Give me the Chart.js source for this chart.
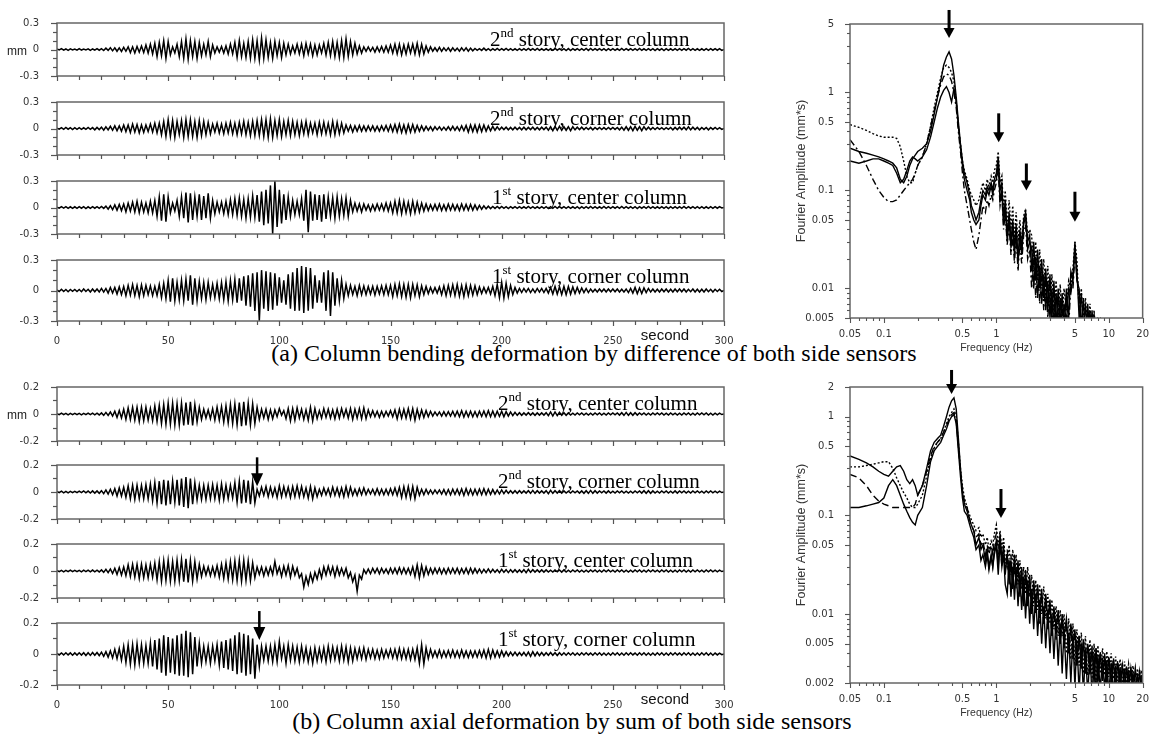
<!DOCTYPE html>
<html><head><meta charset="utf-8"><title>Column deformation records</title>
<script src="https://cdn.jsdelivr.net/npm/chart.js@4.4.1/dist/chart.umd.min.js"></script>
<style>
html,body{margin:0;padding:0;background:#fff;}
body{position:relative;width:1151px;height:734px;overflow:hidden;}
canvas{position:absolute;}
.cap{position:absolute;font-family:"Liberation Serif","Times New Roman",serif;font-size:24px;line-height:24px;color:#000;white-space:nowrap;transform:translateX(-50%);}
</style></head><body>
<div class="cap" style="left:594px;top:341px">(a) Column bending deformation by difference of both side sensors</div>
<div class="cap" style="left:572px;top:709px">(b) Column axial deformation by sum of both side sensors</div>
<script>
// ---------------- time axis (one reading per second, 0..300 s) ----------------
const TIME_SPAN = 300;
const TIME_TICKS = [0,10,20,30,40,50,60,70,80,90,100,110,120,130,140,150,160,170,180,190,200,210,220,230,240,250,260,270,280,290,300];
const TIME_LABELS = [0,50,100,150,200,250,300];
const BEND_Y_TICKS = [-0.3,-0.2,-0.1,0,0.1,0.2,0.3];
const AXIAL_Y_TICKS = [-0.2,-0.1,0,0.1,0.2];

// ---------------- (a) bending deformation, mm ----------------
const BEND_2F_CENTER = [
.005,-.005,.01,-.008,.006,-.01,.008,-.006,.006,-.008,
.01,-.006,.005,-.005,.008,-.01,.006,-.008,.01,-.008,
.01,-.012,.015,-.01,.02,-.015,.02,-.02,.018,-.022,
.025,-.02,.03,-.035,.03,-.04,.035,-.03,.04,-.035,
.05,-.04,.06,-.05,.07,-.08,.08,-.07,.1,-.1,
.09,-.06,.03,-.04,.06,-.08,.09,-.1,.12,-.11,
.1,-.08,.09,-.1,.08,-.07,.06,-.06,.09,-.08,
.05,-.04,.03,-.03,.035,-.04,.04,-.05,.06,-.05,
.08,-.09,.1,-.08,.07,-.09,.09,-.1,.11,-.1,
.1,-.12,.13,-.1,.11,-.09,.08,-.1,.09,-.07,
.08,-.09,.07,-.06,.06,-.05,.04,-.04,.06,-.05,
.06,-.07,.07,-.05,.06,-.07,.05,-.06,.05,-.04,
.07,-.06,.08,-.07,.09,-.08,.08,-.09,.1,-.09,
.12,-.08,.09,-.06,.07,-.05,.04,-.04,.03,-.02,
.03,-.02,.025,-.03,.03,-.025,.035,-.03,.04,-.03,
.05,-.04,.06,-.05,.06,-.06,.05,-.05,.06,-.04,
.06,-.05,.07,-.06,.06,-.05,.04,-.03,.03,-.02,
.02,-.02,.025,-.02,.02,-.015,.02,-.02,.02,-.015,
.015,-.02,.02,-.015,.02,-.02,.015,-.015,.012,-.01,
.01,-.01,.015,-.01,.01,-.012,.01,-.01,.012,-.01,
.01,-.008,.012,-.01,.01,-.01,.008,-.01,.01,-.01,
.01,-.01,.012,-.008,.01,-.01,.012,-.01,.008,-.01,
.008,-.01,.01,-.01,.012,-.008,.01,-.01,.01,-.012,
.01,-.012,.01,-.008,.01,-.01,.01,-.01,.012,-.01,
.012,-.01,.01,-.008,.01,-.01,.01,-.012,.01,-.01,
.01,-.01,.008,-.01,.012,-.01,.01,-.008,.01,-.01,
.01,-.01,.012,-.01,.008,-.01,.01,-.01,.01,-.012,
.01,-.008,.01,-.012,.01,-.01,.008,-.01,.01,-.01,
.01,-.01,.01,-.008,.012,-.01,.01,-.01,.008,-.01,
.008,-.01,.01,-.01,.01,-.008,.01,-.008,.01,-.01,
0];
const BEND_2F_CORNER = [
.005,-.008,.01,-.01,.012,-.008,.01,-.012,.01,-.01,
.01,-.01,.008,-.01,.012,-.01,.01,-.015,.012,-.012,
.015,-.02,.02,-.015,.025,-.02,.03,-.025,.03,-.03,
.04,-.035,.04,-.045,.05,-.04,.045,-.05,.04,-.045,
.04,-.035,.05,-.04,.06,-.05,.06,-.07,.08,-.09,
.1,-.09,.09,-.1,.08,-.07,.09,-.1,.1,-.09,
.1,-.09,.08,-.1,.09,-.08,.08,-.07,.07,-.06,
.05,-.04,.06,-.05,.05,-.06,.06,-.05,.07,-.06,
.06,-.07,.07,-.06,.08,-.07,.07,-.08,.08,-.08,
.09,-.08,.1,-.09,.1,-.1,.11,-.1,.09,-.08,
.1,-.09,.08,-.07,.09,-.08,.08,-.07,.07,-.08,
.07,-.06,.08,-.07,.06,-.05,.06,-.07,.07,-.06,
.07,-.06,.06,-.07,.08,-.07,.07,-.06,.06,-.05,
.04,-.03,.035,-.04,.03,-.03,.035,-.03,.03,-.03,
.03,-.025,.03,-.03,.025,-.03,.03,-.025,.035,-.03,
.04,-.035,.045,-.04,.05,-.045,.04,-.05,.045,-.04,
.045,-.04,.035,-.03,.03,-.025,.025,-.02,.02,-.025,
.02,-.015,.02,-.02,.015,-.02,.02,-.02,.025,-.02,
.02,-.025,.03,-.025,.035,-.04,.04,-.035,.04,-.04,
.04,-.035,.04,-.03,.03,-.025,.025,-.02,.02,-.015,
.015,-.012,.015,-.015,.012,-.015,.015,-.012,.012,-.015,
.015,-.015,.012,-.012,.015,-.015,.012,-.015,.015,-.012,
.015,-.02,.02,-.025,.025,-.02,.025,-.02,.02,-.02,
.02,-.025,.02,-.015,.015,-.012,.015,-.012,.012,-.012,
.012,-.015,.012,-.01,.012,-.012,.01,-.012,.012,-.01,
.012,-.01,.012,-.015,.015,-.02,.02,-.02,.02,-.025,
.025,-.02,.02,-.025,.02,-.015,.015,-.012,.012,-.012,
.012,-.01,.01,-.012,.01,-.01,.012,-.015,.012,-.012,
.015,-.012,.015,-.015,.02,-.015,.015,-.012,.012,-.015,
.012,-.01,.012,-.015,.012,-.01,.012,-.01,.01,-.01,
0];
const BEND_1F_CENTER = [
.005,-.008,.01,-.006,.01,-.01,.008,-.01,.008,-.01,
.01,-.008,.01,-.012,.008,-.01,.01,-.008,.01,-.01,
.012,-.01,.015,-.02,.02,-.025,.03,-.03,.035,-.035,
.04,-.05,.05,-.04,.06,-.05,.07,-.06,.06,-.05,
.05,-.06,.07,-.06,.08,-.1,.12,-.15,.15,-.16,
.12,-.06,.05,-.04,.08,-.1,.12,-.12,.17,-.17,
.16,-.14,.12,-.1,.15,-.14,.13,-.12,.16,-.12,
.08,-.07,.06,-.05,.06,-.07,.07,-.08,.09,-.08,
.1,-.09,.11,-.1,.09,-.12,.1,-.11,.13,-.11,
.14,-.16,.18,-.2,.2,-.18,.25,-.3,.3,-.22,
.2,-.18,.15,-.14,.12,-.1,.08,-.08,.07,-.08,
.1,-.15,.2,-.28,.18,-.15,.15,-.14,.14,-.16,
.15,-.13,.12,-.1,.11,-.12,.12,-.1,.1,-.09,
.11,-.1,.08,-.05,.05,-.04,.04,-.05,.04,-.03,
.03,-.04,.03,-.035,.04,-.03,.04,-.035,.05,-.04,
.05,-.06,.07,-.06,.08,-.07,.07,-.06,.06,-.07,
.07,-.06,.06,-.05,.05,-.04,.04,-.035,.03,-.03,
.035,-.03,.04,-.035,.03,-.035,.04,-.03,.035,-.03,
.03,-.035,.04,-.03,.035,-.03,.035,-.03,.03,-.025,
.025,-.02,.02,-.015,.015,-.012,.012,-.01,.012,-.01,
.012,-.01,.01,-.012,.01,-.008,.01,-.01,.01,-.01,
.008,-.01,.012,-.01,.01,-.01,.008,-.01,.01,-.01,
.01,-.012,.01,-.01,.012,-.01,.01,-.008,.01,-.01,
.01,-.01,.008,-.01,.01,-.012,.01,-.01,.01,-.01,
.012,-.01,.01,-.01,.008,-.01,.012,-.01,.01,-.01,
.01,-.008,.01,-.01,.012,-.01,.01,-.01,.01,-.01,
.01,-.012,.01,-.008,.01,-.01,.012,-.01,.01,-.01,
.008,-.01,.01,-.01,.01,-.012,.01,-.01,.01,-.01,
.01,-.01,.012,-.01,.01,-.008,.01,-.01,.01,-.01,
.01,-.01,.008,-.01,.01,-.01,.01,-.008,.01,-.005,
0];
const BEND_1F_CORNER = [
.005,-.01,.012,-.01,.01,-.012,.01,-.008,.01,-.01,
.01,-.012,.015,-.01,.012,-.015,.015,-.012,.015,-.015,
.02,-.015,.02,-.025,.03,-.025,.03,-.035,.035,-.04,
.04,-.05,.05,-.045,.06,-.05,.05,-.06,.055,-.05,
.05,-.04,.045,-.05,.04,-.05,.06,-.07,.07,-.08,
.1,-.11,.12,-.1,.08,-.09,.1,-.1,.11,-.1,
.15,-.14,.12,-.1,.09,-.08,.08,-.09,.08,-.07,
.06,-.07,.07,-.08,.08,-.09,.09,-.1,.1,-.09,
.11,-.12,.12,-.1,.14,-.15,.15,-.16,.17,-.2,
.18,-.3,.2,-.18,.19,-.2,.18,-.19,.17,-.15,
.13,-.12,.1,-.14,.16,-.18,.18,-.2,.22,-.2,
.24,-.22,.23,-.2,.22,-.18,.15,-.12,.1,-.12,
.18,-.2,.2,-.25,.18,-.15,.12,-.1,.1,-.08,
.06,-.05,.05,-.04,.04,-.05,.05,-.04,.045,-.04,
.04,-.035,.04,-.045,.04,-.035,.045,-.04,.05,-.04,
.05,-.06,.06,-.05,.065,-.06,.06,-.065,.06,-.07,
.06,-.05,.055,-.06,.045,-.04,.04,-.03,.03,-.025,
.03,-.025,.035,-.04,.045,-.05,.05,-.045,.055,-.05,
.06,-.055,.05,-.06,.055,-.05,.05,-.045,.045,-.04,
.035,-.03,.03,-.025,.03,-.035,.04,-.05,.06,-.07,
.08,-.075,.07,-.06,.05,-.04,.03,-.025,.02,-.02,
.02,-.015,.02,-.02,.015,-.02,.02,-.015,.02,-.02,
.02,-.025,.03,-.035,.04,-.035,.035,-.04,.04,-.04,
.04,-.035,.035,-.03,.03,-.025,.025,-.02,.02,-.02,
.015,-.015,.012,-.015,.015,-.012,.015,-.015,.015,-.012,
.015,-.012,.015,-.015,.012,-.015,.015,-.02,.02,-.025,
.03,-.03,.025,-.03,.025,-.02,.02,-.015,.015,-.015,
.012,-.015,.015,-.012,.015,-.015,.012,-.015,.015,-.012,
.015,-.012,.015,-.015,.012,-.012,.015,-.015,.012,-.015,
.012,-.015,.015,-.012,.012,-.015,.012,-.01,.012,-.01,
0];

// ---------------- (b) axial deformation, mm ----------------
const AXIAL_2F_CENTER = [
.003,-.005,.006,-.005,.005,-.006,.005,-.004,.005,-.005,
.005,-.006,.005,-.005,.006,-.005,.006,-.006,.006,-.007,
.008,-.01,.012,-.01,.015,-.015,.02,-.025,.025,-.03,
.035,-.04,.045,-.04,.05,-.045,.05,-.055,.05,-.05,
.05,-.045,.04,-.05,.06,-.055,.065,-.07,.07,-.075,
.08,-.075,.08,-.08,.075,-.08,.08,-.085,.085,-.08,
.09,-.085,.07,-.06,.05,-.04,.035,-.03,.03,-.035,
.04,-.045,.05,-.045,.055,-.06,.06,-.065,.07,-.07,
.075,-.08,.085,-.09,.09,-.085,.08,-.08,.075,-.07,
.05,-.04,.035,-.03,.035,-.04,.03,-.035,.03,-.02,
.04,-.01,.025,-.035,.04,-.05,.04,-.045,.045,-.03,
.035,-.04,.03,-.045,.05,-.05,.04,-.035,.025,-.03,
.04,-.025,.035,-.03,.03,-.035,.035,-.03,.04,-.02,
.035,-.03,.04,-.04,.035,-.03,.04,-.035,.045,-.035,
.03,-.02,.025,-.02,.02,-.025,.02,-.02,.02,-.015,
.025,-.02,.03,-.035,.035,-.03,.035,-.03,.04,-.035,
.04,-.045,.035,-.03,.03,-.025,.025,-.02,.02,-.015,
.015,-.012,.015,-.015,.018,-.015,.018,-.015,.02,-.018,
.02,-.02,.025,-.022,.02,-.02,.02,-.02,.018,-.02,
.02,-.018,.022,-.02,.025,-.02,.022,-.02,.02,-.018,
.02,-.02,.018,-.015,.015,-.012,.012,-.01,.01,-.01,
.008,-.008,.01,-.008,.008,-.01,.008,-.008,.008,-.008,
.01,-.012,.015,-.015,.015,-.012,.012,-.01,.01,-.01,
.008,-.008,.006,-.008,.008,-.006,.008,-.008,.006,-.008,
.006,-.008,.008,-.006,.008,-.008,.006,-.008,.008,-.006,
.008,-.006,.008,-.008,.01,-.01,.012,-.01,.01,-.01,
.01,-.008,.008,-.006,.008,-.008,.006,-.008,.008,-.006,
.008,-.006,.008,-.008,.006,-.008,.008,-.006,.006,-.008,
.006,-.008,.008,-.006,.008,-.008,.006,-.008,.008,-.006,
.008,-.006,.008,-.008,.006,-.008,.006,-.006,.006,-.004,
0];
const AXIAL_2F_CORNER = [
.004,-.005,.006,-.006,.005,-.006,.005,-.005,.005,-.005,
.006,-.005,.008,-.006,.007,-.008,.008,-.008,.008,-.01,
.01,-.012,.015,-.015,.02,-.02,.025,-.03,.03,-.03,
.035,-.04,.045,-.05,.05,-.055,.05,-.05,.05,-.05,
.055,-.05,.06,-.065,.07,-.08,.08,-.09,.09,-.1,
.085,-.09,.08,-.075,.09,-.1,.1,-.11,.11,-.12,
.1,-.09,.07,-.06,.05,-.055,.05,-.055,.05,-.05,
.055,-.05,.05,-.06,.06,-.055,.05,-.05,.05,-.045,
.07,-.075,.08,-.085,.09,-.08,.085,-.09,.075,-.08,
.02,-.03,.035,-.025,.04,-.035,.035,-.03,.03,-.04,
.045,-.035,.04,-.03,.035,-.04,.04,-.035,.045,-.035,
.04,-.035,.03,-.045,.04,-.05,.03,-.035,.02,-.025,
.03,-.02,.025,-.03,.035,-.025,.03,-.03,.03,-.035,
.04,-.03,.035,-.025,.02,-.025,.025,-.02,.03,-.02,
.02,-.015,.02,-.02,.025,-.02,.02,-.02,.02,-.02,
.025,-.02,.03,-.025,.035,-.04,.04,-.04,.04,-.045,
.04,-.05,.035,-.025,.02,-.02,.02,-.015,.015,-.015,
.015,-.012,.015,-.015,.018,-.02,.018,-.02,.02,-.018,
.02,-.02,.022,-.025,.025,-.02,.02,-.022,.02,-.02,
.022,-.02,.025,-.02,.02,-.018,.018,-.015,.015,-.015,
.015,-.012,.012,-.01,.01,-.01,.01,-.01,.01,-.008,
.008,-.008,.01,-.01,.012,-.01,.01,-.008,.008,-.008,
.01,-.012,.012,-.01,.01,-.008,.01,-.008,.008,-.008,
.006,-.008,.008,-.006,.008,-.008,.008,-.01,.01,-.01,
.012,-.01,.01,-.008,.008,-.006,.008,-.008,.008,-.008,
.006,-.008,.008,-.006,.008,-.008,.006,-.008,.006,-.008,
.008,-.006,.008,-.008,.01,-.01,.01,-.01,.008,-.008,
.006,-.008,.008,-.006,.008,-.008,.006,-.008,.008,-.008,
.008,-.006,.008,-.008,.006,-.008,.008,-.006,.008,-.006,
.006,-.008,.008,-.006,.008,-.006,.006,-.006,.006,-.004,
0];
const AXIAL_1F_CENTER = [
.004,-.005,.005,-.006,.005,-.005,.006,-.005,.005,-.005,
.005,-.006,.006,-.005,.006,-.006,.007,-.006,.006,-.007,
.008,-.01,.012,-.012,.015,-.018,.02,-.025,.025,-.03,
.03,-.035,.045,-.04,.05,-.045,.05,-.055,.05,-.05,
.045,-.05,.05,-.045,.06,-.065,.07,-.075,.075,-.07,
.08,-.075,.07,-.075,.08,-.07,.085,-.08,.09,-.085,
.08,-.075,.07,-.06,.05,-.04,.035,-.03,.03,-.035,
.03,-.035,.04,-.045,.05,-.055,.06,-.06,.07,-.065,
.075,-.07,.08,-.075,.08,-.07,.075,-.07,.06,-.05,
.03,-.025,.03,-.035,.025,-.03,.03,-.025,.07,-.02,
.03,-.04,.035,-.03,.04,-.045,.035,-.03,.02,-.05,
-.02,-.12,-.04,-.1,-.02,-.08,-.01,-.06,.01,-.05,
.03,-.03,.035,-.025,.03,-.04,.03,-.03,.02,-.03,
.02,-.05,-.01,-.08,-.03,-.15,-.03,-.06,.01,-.02,
.015,-.02,.02,-.015,.02,-.02,.02,-.015,.015,-.02,
.02,-.018,.02,-.02,.025,-.02,.022,-.02,.02,-.025,
.03,-.04,.045,-.05,.04,-.035,.03,-.025,.02,-.02,
.02,-.018,.02,-.02,.018,-.02,.02,-.018,.02,-.018,
.02,-.02,.018,-.018,.02,-.02,.02,-.018,.018,-.015,
.015,-.015,.012,-.012,.015,-.012,.012,-.01,.01,-.012,
.012,-.01,.01,-.012,.01,-.01,.01,-.01,.008,-.01,
.01,-.012,.012,-.01,.01,-.008,.008,-.008,.008,-.008,
.008,-.008,.006,-.008,.008,-.006,.008,-.008,.008,-.008,
.006,-.008,.008,-.006,.008,-.008,.006,-.008,.006,-.008,
.008,-.006,.008,-.008,.006,-.008,.008,-.006,.008,-.006,
.006,-.008,.008,-.006,.008,-.008,.006,-.008,.006,-.008,
.008,-.006,.008,-.008,.006,-.008,.008,-.006,.008,-.006,
.006,-.008,.008,-.006,.008,-.008,.006,-.008,.006,-.008,
.008,-.006,.008,-.008,.006,-.008,.008,-.006,.008,-.006,
.006,-.008,.008,-.006,.008,-.006,.006,-.006,.006,-.004,
0];
const AXIAL_1F_CORNER = [
.004,-.006,.007,-.006,.008,-.006,.007,-.008,.007,-.007,
.008,-.007,.008,-.01,.008,-.009,.01,-.008,.01,-.01,
.012,-.015,.015,-.02,.02,-.025,.03,-.03,.035,-.04,
.05,-.055,.06,-.065,.06,-.07,.065,-.06,.06,-.06,
.055,-.06,.07,-.08,.09,-.1,.1,-.12,.12,-.14,
.11,-.12,.1,-.13,.12,-.14,.13,-.14,.15,-.15,
.14,-.13,.11,-.08,.07,-.06,.05,-.05,.05,-.06,
.05,-.045,.06,-.07,.08,-.09,.09,-.1,.1,-.11,
.12,-.13,.14,-.12,.13,-.14,.12,-.13,.1,-.16,
.06,-.08,.05,-.04,.05,-.045,.05,-.05,.06,-.05,
.08,-.03,.05,-.06,.06,-.04,.05,-.045,.045,-.05,
.05,-.04,.04,-.05,.03,-.06,.04,-.045,.035,-.04,
.04,-.05,.05,-.04,.045,-.035,.04,-.045,.05,-.04,
.045,-.05,.04,-.045,.035,-.03,.035,-.03,.04,-.035,
.03,-.025,.03,-.03,.025,-.03,.03,-.025,.025,-.02,
.03,-.025,.03,-.03,.035,-.03,.03,-.03,.03,-.035,
.03,-.035,.04,-.06,.06,-.065,.04,-.03,.03,-.02,
.02,-.02,.025,-.022,.02,-.02,.022,-.02,.025,-.02,
.02,-.022,.025,-.02,.02,-.022,.02,-.02,.02,-.02,
.022,-.02,.025,-.025,.03,-.025,.025,-.02,.02,-.02,
.02,-.015,.015,-.012,.012,-.01,.012,-.01,.01,-.01,
.01,-.012,.012,-.015,.015,-.012,.012,-.01,.01,-.01,
.008,-.008,.01,-.008,.008,-.01,.008,-.008,.008,-.008,
.008,-.006,.008,-.008,.006,-.008,.008,-.006,.008,-.006,
.006,-.008,.008,-.006,.008,-.008,.006,-.008,.006,-.008,
.008,-.006,.008,-.008,.006,-.008,.008,-.006,.008,-.006,
.006,-.008,.008,-.006,.008,-.008,.006,-.008,.006,-.008,
.008,-.006,.008,-.008,.006,-.008,.008,-.006,.008,-.006,
.006,-.008,.008,-.006,.008,-.008,.006,-.008,.006,-.008,
.008,-.006,.008,-.008,.006,-.008,.006,-.006,.006,-.004,
0];

// ---------------- Fourier spectra ----------------
const FREQ_LOW = [0.05,0.06,0.07,0.08,0.09,0.1,0.11,0.12,0.13,0.14,0.15,0.16,0.17,0.18,0.19,0.2,
 0.22,0.24,0.26,0.28,0.3,0.32,0.34,0.36,0.38,0.4,0.42,0.44,0.46,0.48,0.5,
 0.52,0.55,0.58,0.6,0.63,0.66,0.7,0.73,0.76,0.8,0.83,0.86,0.9,0.93,0.96];
const FREQ_HIGH = [1.0,1.04,1.08,1.12,1.16,1.2,1.25,1.3,1.35,1.4,1.45,1.5,
 1.56,1.62,1.68,1.75,1.82,1.9,1.98,
 2.06,2.15,2.24,2.33,2.43,2.53,2.64,2.75,2.87,3.0,
 3.12,3.25,3.4,3.55,3.7,3.85,4.0,
 4.2,4.4,4.6,4.8,5.0,
 5.2,5.45,5.7,5.95,6.2,6.5,6.8,7.1,7.4,7.7,8.0,
 8.4,8.8,9.2,9.6,10,
 10.5,11,11.5,12,12.6,13.2,13.8,14.4,15,
 15.7,16.4,17.2,18,18.8,19.6,20];

// (a) bending spectra (mm*s)
const SPEC_A_SOLID1 = [.27,.25,.24,.23,.22,.21,.2,.19,.17,.13,.12,.14,.18,.21,.23,.25,
 .27,.3,.4,.6,.9,1.3,1.9,2.3,2.6,2.2,1.5,.9,.5,.3,.2,
 .15,.12,.09,.07,.06,.05,.06,.08,.1,.09,.11,.1,.12,.1,.13,
 .15,.22,.1,.12,.05,.08,.035,.06,.03,.05,.025,.045,
 .02,.04,.025,.05,.06,.03,.035,
 .015,.03,.012,.025,.01,.02,.008,.016,.006,.014,
 .005,.012,.004,.01,.004,.009,.004,
 .01,.005,.015,.012,.03,
 .012,.01,.004,.008,.003,.007,.003,.006,.003,.005,.003,
 .004,.003,.0035,.003,.003];
const SPEC_A_DOTTED = [.47,.44,.41,.38,.36,.35,.35,.35,.34,.28,.2,.14,.12,.12,.15,.18,
 .22,.3,.45,.7,1.0,1.4,1.8,1.9,1.8,1.6,1.3,.8,.45,.3,.2,
 .16,.13,.1,.09,.08,.07,.08,.1,.12,.1,.13,.11,.14,.12,.16,
 .18,.25,.12,.14,.06,.1,.045,.08,.04,.07,.03,.06,
 .03,.05,.03,.055,.065,.035,.04,
 .035,.015,.03,.012,.025,.01,.02,.008,.017,.006,
 .014,.005,.012,.005,.011,.0045,.01,
 .006,.012,.01,.016,.03,
 .02,.006,.01,.004,.008,.0035,.007,.003,.006,.003,.005,
 .005,.0035,.004,.003,.0035];
const SPEC_A_DASHDOT = [.33,.25,.18,.13,.1,.085,.077,.077,.08,.09,.1,.11,.12,.13,.15,.18,
 .22,.3,.45,.65,.9,1.2,1.45,1.55,1.5,1.3,1.0,.7,.4,.25,.15,
 .1,.07,.05,.04,.03,.025,.035,.05,.07,.06,.08,.07,.09,.08,.1,
 .12,.16,.07,.09,.04,.06,.028,.045,.022,.035,.018,.035,
 .015,.03,.018,.035,.045,.02,.025,
 .01,.022,.008,.018,.007,.015,.006,.012,.005,.011,
 .004,.009,.0035,.008,.0035,.007,.003,
 .008,.004,.011,.01,.022,
 .014,.008,.0035,.0065,.003,.0055,.0025,.005,.0025,.004,.0025,
 .0035,.0025,.003,.0025,.0025];
const SPEC_A_SOLID2 = [.2,.19,.2,.21,.21,.2,.19,.18,.15,.12,.13,.16,.2,.22,.21,.2,
 .22,.26,.35,.5,.7,.9,1.05,1.15,1.0,.8,1.1,.8,.45,.28,.18,
 .13,.1,.08,.06,.05,.045,.05,.07,.09,.08,.1,.09,.11,.09,.12,
 .13,.19,.08,.1,.045,.07,.03,.05,.026,.045,.022,.04,
 .018,.035,.022,.045,.055,.025,.03,
 .026,.01,.021,.008,.017,.007,.014,.006,.012,.005,
 .01,.004,.009,.004,.008,.0035,.007,
 .0045,.01,.009,.013,.026,
 .016,.005,.009,.0035,.007,.003,.006,.003,.0055,.003,.0045,
 .0038,.0028,.0032,.0028,.0028];

// (b) axial spectra (mm*s)
const SPEC_B_SOLID1 = [.4,.37,.34,.31,.28,.26,.25,.28,.31,.32,.28,.23,.21,.23,.2,.16,
 .2,.3,.45,.55,.6,.65,.8,1.0,1.25,1.45,1.55,1.2,.6,.3,.17,
 .13,.11,.09,.08,.07,.05,.06,.045,.05,.035,.045,.03,.04,.03,.045,
 .055,.03,.065,.035,.05,.025,.04,.02,.035,.018,.04,.02,
 .035,.015,.03,.012,.028,.014,.025,
 .01,.022,.012,.02,.009,.018,.008,.016,.009,.014,
 .006,.012,.007,.011,.005,.01,.006,
 .009,.004,.008,.005,.007,
 .003,.006,.003,.0055,.0025,.005,.0025,.0045,.002,.0045,.002,
 .004,.0022,.0038,.0019,.0036,
 .002,.0034,.0018,.0032,.0019,.003,.0017,.0029,.0018,
 .0028,.0017,.0027,.0016,.0026,.0017,.0024];
const SPEC_B_DOTTED = [.31,.31,.32,.33,.34,.35,.35,.3,.24,.2,.17,.15,.13,.12,.12,.13,
 .16,.25,.38,.48,.55,.6,.7,.85,1.0,1.1,1.2,1.0,.55,.3,.2,
 .15,.12,.1,.09,.08,.07,.075,.06,.065,.05,.06,.045,.055,.05,.065,
 .08,.05,.07,.045,.06,.035,.03,.05,.025,.045,.025,.04,
 .02,.035,.018,.03,.016,.03,.015,
 .025,.012,.022,.011,.02,.01,.019,.009,.016,.008,
 .014,.007,.012,.006,.011,.006,.01,
 .004,.009,.0035,.008,.003,
 .007,.003,.0065,.0025,.006,.0024,.0055,.0022,.005,.002,.0048,
 .0025,.0045,.0024,.0042,.0023,
 .004,.0022,.0037,.0021,.0035,.002,.0033,.002,.0031,
 .0019,.003,.0019,.0028,.0018,.0027,.0018];
const SPEC_B_DASHED = [.26,.24,.2,.16,.14,.13,.125,.12,.12,.12,.12,.12,.12,.12,.13,.16,
 .2,.28,.4,.5,.55,.6,.7,.8,.95,1.05,1.1,.9,.5,.28,.18,
 .14,.12,.09,.08,.07,.06,.065,.05,.055,.04,.05,.04,.05,.04,.055,
 .065,.04,.06,.03,.045,.028,.045,.025,.04,.02,.035,.018,
 .03,.016,.028,.015,.025,.012,.022,
 .011,.02,.01,.018,.008,.016,.008,.014,.007,.012,
 .006,.011,.0055,.01,.005,.009,.0045,
 .008,.004,.007,.0035,.0065,
 .003,.006,.0028,.0055,.0025,.005,.0024,.0048,.0022,.0045,.0021,
 .0042,.002,.004,.002,.0038,
 .0019,.0036,.0019,.0034,.0018,.0032,.0018,.003,.0017,
 .0029,.0017,.0028,.0016,.0027,.0016,.0026];
const SPEC_B_SOLID2 = [.12,.12,.125,.13,.135,.15,.2,.23,.2,.16,.13,.11,.095,.085,.08,.1,
 .12,.2,.35,.45,.5,.55,.65,.75,.9,1.0,1.05,.85,.45,.25,.15,
 .11,.1,.08,.07,.06,.045,.05,.035,.04,.03,.04,.028,.038,.03,.04,
 .05,.025,.055,.03,.04,.02,.016,.035,.015,.03,.014,.03,
 .012,.026,.011,.024,.009,.022,.008,
 .018,.007,.016,.006,.014,.005,.012,.0045,.011,.004,
 .01,.0035,.009,.003,.008,.0025,.007,
 .0022,.0065,.002,.006,.0018,
 .0055,.0016,.005,.0015,.0045,.0015,.0042,.0014,.004,.0014,.0038,
 .0017,.0036,.0017,.0034,.0016,
 .0032,.0016,.003,.0016,.0029,.0015,.0028,.0015,.0027,
 .0015,.0026,.0015,.0025,.0015,.0024,.0015];

const SPEC_X_TICKS = [0.05,0.06,0.07,0.08,0.09,0.1,0.2,0.3,0.4,0.5,0.6,0.7,0.8,0.9,1,2,3,4,5,6,7,8,9,10,20];
const SPEC_X_LABELS = [0.05,0.1,0.5,1,5,10,20];
const SPEC_A_Y_TICKS = [0.005,0.006,0.007,0.008,0.009,0.01,0.02,0.03,0.04,0.05,0.06,0.07,0.08,0.09,0.1,0.2,0.3,0.4,0.5,0.6,0.7,0.8,0.9,1,2,3,4,5];
const SPEC_A_Y_LABELS = [0.005,0.01,0.05,0.1,0.5,1,5];
const SPEC_B_Y_TICKS = [0.002,0.003,0.004,0.005,0.006,0.007,0.008,0.009,0.01,0.02,0.03,0.04,0.05,0.06,0.07,0.08,0.09,0.1,0.2,0.3,0.4,0.5,0.6,0.7,0.8,0.9,1,2];
const SPEC_B_Y_LABELS = [0.002,0.005,0.01,0.05,0.1,0.5,1,2];

// ---------------- layout ----------------
const PANELS = [
 {data:BEND_2F_CENTER, top:19, h:65, lim:0.3, yt:BEND_Y_TICKS, num:'2', sup:'nd', rest:' story, center column', tx:490, mm:true},
 {data:BEND_2F_CORNER, top:98, h:65, lim:0.3, yt:BEND_Y_TICKS, num:'2', sup:'nd', rest:' story, corner column', tx:490},
 {data:BEND_1F_CENTER, top:177, h:65, lim:0.3, yt:BEND_Y_TICKS, num:'1', sup:'st', rest:' story, center column', tx:492},
 {data:BEND_1F_CORNER, top:256, h:65, lim:0.3, yt:BEND_Y_TICKS, num:'1', sup:'st', rest:' story, corner column', tx:492, xlabels:true},
 {data:AXIAL_2F_CENTER, top:383, h:66, lim:0.2, yt:AXIAL_Y_TICKS, num:'2', sup:'nd', rest:' story, center column', tx:498, mm:true},
 {data:AXIAL_2F_CORNER, top:461, h:66, lim:0.2, yt:AXIAL_Y_TICKS, num:'2', sup:'nd', rest:' story, corner column', tx:498, arrow:{t:90, v:0.042, len:29}},
 {data:AXIAL_1F_CENTER, top:540, h:66, lim:0.2, yt:AXIAL_Y_TICKS, num:'1', sup:'st', rest:' story, center column', tx:498},
 {data:AXIAL_1F_CORNER, top:619, h:66, lim:0.2, yt:AXIAL_Y_TICKS, num:'1', sup:'st', rest:' story, corner column', tx:498, xlabels:true, arrow:{t:91, v:0.09, len:29}}
];

const TICK_FONT = {family:'"DejaVu Sans", sans-serif', size:10};

function mkCanvas(left, top, w, h){
  const c = document.createElement('canvas');
  c.width = w; c.height = h;
  c.style.left = left+'px'; c.style.top = top+'px';
  c.style.width = w+'px'; c.style.height = h+'px';
  document.body.appendChild(c);
  return c;
}
function drawArrow(ctx, x, yTip, len, shaftW, headW, headH){
  ctx.fillStyle = '#000';
  ctx.fillRect(x - shaftW/2, yTip - len, shaftW, len - headH + 1);
  ctx.beginPath();
  ctx.moveTo(x - headW/2, yTip - headH);
  ctx.lineTo(x + headW/2, yTip - headH);
  ctx.lineTo(x, yTip);
  ctx.closePath();
  ctx.fill();
}

const PAD_T = 12;
PANELS.forEach(p => {
  const xh = p.xlabels ? 30 : 8;
  const c = mkCanvas(0, p.top - PAD_T, 760, PAD_T + p.h + xh);
  const n = p.data.length;
  const pts = p.data.map((v, i) => ({x: i * TIME_SPAN / (n - 1), y: v}));
  const decor = {
    id: 'tsDecor',
    afterDraw(chart){
      const {ctx, chartArea:a, scales:{x, y}} = chart;
      ctx.save();
      ctx.strokeStyle = '#666'; ctx.lineWidth = 1.5;
      ctx.strokeRect(a.left, a.top, a.right - a.left, a.bottom - a.top);
      ctx.strokeStyle = '#555'; ctx.lineWidth = 1.2;
      p.yt.forEach(v => {
        const py = Math.round(y.getPixelForValue(v)) + 0.5;
        const L = (v === 0 || Math.abs(v) === p.lim) ? 6 : 4;
        ctx.beginPath(); ctx.moveTo(a.left - L, py); ctx.lineTo(a.left, py); ctx.stroke();
      });
      TIME_TICKS.forEach(t => {
        const px = Math.round(x.getPixelForValue(t)) + 0.5;
        const L = t % 50 === 0 ? 5 : 4;
        ctx.beginPath(); ctx.moveTo(px, a.bottom); ctx.lineTo(px, a.bottom + L); ctx.stroke();
      });
      ctx.fillStyle = '#000'; ctx.textAlign = 'left'; ctx.textBaseline = 'alphabetic';
      let tx = p.tx; const ty = a.top + 23;
      ctx.font = '21px "Liberation Serif"'; ctx.fillText(p.num, tx, ty); tx += ctx.measureText(p.num).width;
      ctx.font = '13px "Liberation Serif"'; ctx.fillText(p.sup, tx, ty - 9); tx += ctx.measureText(p.sup).width;
      ctx.font = '21px "Liberation Serif"'; ctx.fillText(p.rest, tx, ty);
      if (p.mm){
        ctx.font = '12px "Liberation Sans"'; ctx.fillStyle = '#222';
        ctx.fillText('mm', 7, y.getPixelForValue(0) + 5);
      }
      if (p.xlabels){
        ctx.font = '15px "Liberation Sans"'; ctx.textAlign = 'center'; ctx.fillStyle = '#111';
        ctx.fillText('second', 665, a.bottom + 19);
      }
      if (p.arrow){
        drawArrow(ctx, x.getPixelForValue(p.arrow.t), y.getPixelForValue(p.arrow.v), p.arrow.len, 2.5, 12, 13);
      }
      ctx.restore();
    }
  };
  new Chart(c, {
    type: 'line',
    data: {datasets: [{data: pts, borderColor: '#000', borderWidth: 1.5, pointRadius: 0, tension: 0, fill: false}]},
    options: {
      responsive: false, animation: false, events: [], parsing: false, normalized: true, devicePixelRatio: 1,
      layout: {padding: {top: PAD_T, right: 36, left: 0, bottom: 0}},
      plugins: {legend: {display: false}, tooltip: {enabled: false}},
      scales: {
        x: {type: 'linear', min: 0, max: TIME_SPAN, grid: {display: false}, border: {display: false},
            ticks: {display: !!p.xlabels, autoSkip: false, maxRotation: 0, padding: 6, font: TICK_FONT, color: '#333', callback: v => String(v)},
            afterBuildTicks: s => { s.ticks = TIME_LABELS.map(v => ({value: v})); },
            afterFit: s => { s.height = xh; }},
        y: {type: 'linear', min: -p.lim, max: p.lim, grid: {display: false}, border: {display: false},
            ticks: {padding: 10, font: TICK_FONT, color: '#333', callback: v => String(v)},
            afterBuildTicks: s => { s.ticks = [-p.lim, 0, p.lim].map(v => ({value: v})); },
            afterFit: s => { s.width = 57; }}
      }
    },
    plugins: [decor]
  });
});

// ---------------- spectra ----------------
const SPECTRA = [
 {left:760, top:0, w:391, h:360, padTop:24, xh:42, ymin:0.005, ymax:5, yt:SPEC_A_Y_TICKS, yl:SPEC_A_Y_LABELS,
  freq: FREQ_LOW.concat(FREQ_HIGH),
  lines:[{v:SPEC_A_SOLID1, dash:[]},{v:SPEC_A_DOTTED, dash:[2,2]},{v:SPEC_A_DASHDOT, dash:[7,3,2,3]},{v:SPEC_A_SOLID2, dash:[]}],
  arrows:[{f:0.38, v:3.6, len:28},{f:1.05, v:0.31, len:29},{f:1.85, v:0.1, len:27},{f:5, v:0.048, len:30}]},
 {left:760, top:366, w:391, h:368, padTop:21, xh:51, ymin:0.002, ymax:2, yt:SPEC_B_Y_TICKS, yl:SPEC_B_Y_LABELS,
  freq: FREQ_LOW.concat(FREQ_HIGH),
  lines:[{v:SPEC_B_SOLID1, dash:[]},{v:SPEC_B_DOTTED, dash:[2,2]},{v:SPEC_B_DASHED, dash:[7,4]},{v:SPEC_B_SOLID2, dash:[]}],
  arrows:[{f:0.4, v:1.7, len:24},{f:1.1, v:0.094, len:29}]}
];

SPECTRA.forEach(s => {
  const c = mkCanvas(s.left, s.top, s.w, s.h);
  const datasets = s.lines.map(l => ({
    data: l.v.map((v, i) => ({x: s.freq[i], y: v})).filter(pt => pt.x !== undefined),
    borderColor: '#000', borderWidth: 1.4, borderDash: l.dash, pointRadius: 0, tension: 0, fill: false
  }));
  const decor = {
    id: 'specDecor',
    afterDraw(chart){
      const {ctx, chartArea:a, scales:{x, y}} = chart;
      ctx.save();
      ctx.strokeStyle = '#666'; ctx.lineWidth = 1.5;
      ctx.strokeRect(a.left, a.top, a.right - a.left, a.bottom - a.top);
      ctx.strokeStyle = '#555'; ctx.lineWidth = 1.1;
      s.yt.forEach(v => {
        const py = Math.round(y.getPixelForValue(v)) + 0.5;
        const L = s.yl.includes(v) ? 5 : 3;
        ctx.beginPath(); ctx.moveTo(a.left - L, py); ctx.lineTo(a.left, py); ctx.stroke();
      });
      SPEC_X_TICKS.forEach(f => {
        const px = Math.round(x.getPixelForValue(f)) + 0.5;
        const L = SPEC_X_LABELS.includes(f) ? 5 : 3;
        ctx.beginPath(); ctx.moveTo(px, a.bottom); ctx.lineTo(px, a.bottom + L); ctx.stroke();
      });
      ctx.fillStyle = '#333'; ctx.textAlign = 'center'; ctx.textBaseline = 'alphabetic';
      ctx.font = '10.5px "Liberation Sans"';
      ctx.fillText('Frequency (Hz)', (a.left + a.right) / 2, a.bottom + 33);
      ctx.save();
      ctx.translate(42, (a.top + a.bottom) / 2);
      ctx.rotate(-Math.PI / 2);
      ctx.textBaseline = 'middle';
      ctx.font = '12.5px "Liberation Sans"';
      ctx.fillText('Fourier Amplitude (mm*s)', 0, 0);
      ctx.restore();
      s.arrows.forEach(ar => drawArrow(ctx, x.getPixelForValue(ar.f), y.getPixelForValue(ar.v), ar.len, 3, 11, 10));
      ctx.restore();
    }
  };
  new Chart(c, {
    type: 'line',
    data: {datasets},
    options: {
      responsive: false, animation: false, events: [], parsing: false, devicePixelRatio: 1,
      layout: {padding: {top: s.padTop, right: 4, left: 0, bottom: 0}},
      plugins: {legend: {display: false}, tooltip: {enabled: false}},
      scales: {
        x: {type: 'logarithmic', min: 0.05, max: 20, grid: {display: false}, border: {display: false},
            ticks: {autoSkip: false, maxRotation: 0, padding: 2, font: TICK_FONT, color: '#333',
                    callback: v => SPEC_X_LABELS.includes(v) ? String(v) : ''},
            afterBuildTicks: sc => { sc.ticks = SPEC_X_TICKS.map(v => ({value: v})); },
            afterFit: sc => { sc.height = s.xh; }},
        y: {type: 'logarithmic', min: s.ymin, max: s.ymax, grid: {display: false}, border: {display: false},
            ticks: {autoSkip: false, padding: 8, font: TICK_FONT, color: '#333',
                    callback: v => s.yl.includes(v) ? String(v) : ''},
            afterBuildTicks: sc => { sc.ticks = s.yt.map(v => ({value: v})); },
            afterFit: sc => { sc.width = 90; }}
      }
    },
    plugins: [decor]
  });
});
</script>
</body></html>
